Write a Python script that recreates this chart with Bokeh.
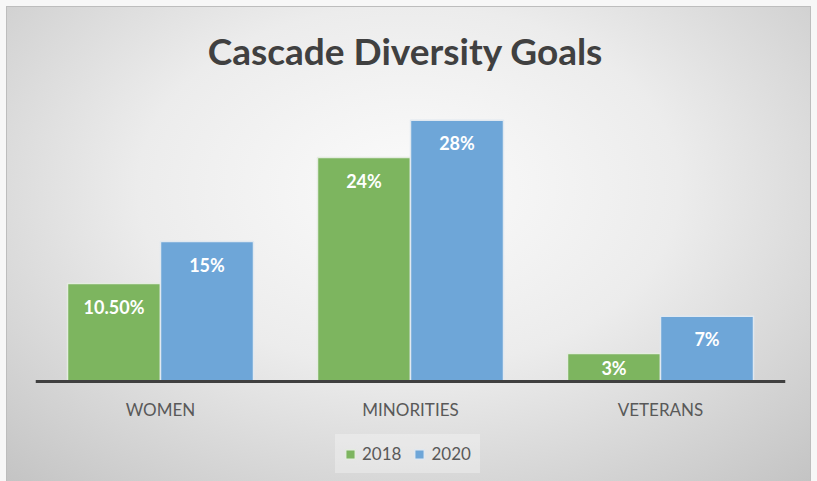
from bokeh.plotting import figure
from bokeh.models import ColumnDataSource, FactorRange, LabelSet, Label, Legend, LegendItem
from bokeh.core.properties import value
from bokeh.transform import dodge
from bokeh.embed import file_html
from bokeh.resources import INLINE

categories = ["WOMEN", "MINORITIES", "VETERANS"]
series_names = ["2018", "2020"]
values_2018 = [10.5, 24, 3]
values_2020 = [15, 28, 7]
labels_2018 = ["10.50%", "24%", "3%"]
labels_2020 = ["15%", "28%", "7%"]
title_text = "Cascade Diversity Goals"

GREEN = "#7db55f"
BLUE = "#6ea6d8"
FONT = "Lato"

PX = 280.0 / 30.0                  # pixels per percentage point
Y_BOTTOM = -100.0 / PX             # room below the baseline (axis labels, legend)
Y_TOP = 30.0 + 94.0 / PX           # room above the bars (title)
INSET = 23.0 / PX                  # label inset below bar top (data units)


def label_pos(vals):
    # "inside end" label: near the top, but centred in bars too short for that
    return [max(v - INSET, v / 2.0) for v in vals]


src = ColumnDataSource(dict(cat=categories, v18=values_2018, v20=values_2020,
                            l18=labels_2018, l20=labels_2020,
                            y18=label_pos(values_2018), y20=label_pos(values_2020)))

p = figure(width=803, height=474, x_range=FactorRange(*categories), y_range=(Y_BOTTOM, Y_TOP),
           output_backend="svg", toolbar_location=None,
           min_border_left=28, min_border_right=25, min_border_top=0, min_border_bottom=0)

p.styles = {"background": "radial-gradient(ellipse 75% 85% at 50% 38%, #fbfbfb 0%, #ececec 45%, #c3c3c3 100%)",
            "outline": "1px solid #bdbdbd", "margin": "7px 0 0 7px"}
p.background_fill_alpha = 0
p.border_fill_alpha = 0
p.outline_line_color = None

off = 0.186
w = 0.372
r1 = p.vbar(x=dodge("cat", -off, range=p.x_range), top="v18", width=w, source=src,
            fill_color=GREEN, line_color="#e4ece0", line_width=1.5)
r2 = p.vbar(x=dodge("cat", off, range=p.x_range), top="v20", width=w, source=src,
            fill_color=BLUE, line_color="#e0e8f0", line_width=1.5)

for yfield, lab, d in (("y18", "l18", -off), ("y20", "l20", off)):
    ls = LabelSet(x=dodge("cat", d, range=p.x_range), y=yfield, text=lab, source=src,
                  text_align="center", text_baseline="middle",
                  text_color="white", text_font=value(FONT), text_font_style="bold",
                  text_font_size="18px")
    p.add_layout(ls)

title = Label(x=1.48, y=30.0 + 51.0 / PX, text=title_text,
              text_align="center", text_baseline="middle",
              text_font=FONT, text_font_style="bold", text_font_size="37px",
              text_color="#404040")
p.add_layout(title)

p.yaxis.visible = False
p.xgrid.visible = False
p.ygrid.visible = False
p.xaxis.fixed_location = 0
p.xaxis.axis_line_color = "#404040"
p.xaxis.axis_line_width = 3
p.xaxis.major_tick_line_color = None
p.xaxis.minor_tick_line_color = None
p.xaxis.major_label_text_font = FONT
p.xaxis.major_label_text_font_size = "17px"
p.xaxis.major_label_text_color = "#595959"
p.xaxis.major_label_standoff = 11
p.x_range.range_padding = 0
p.x_range.group_padding = 0

legend = Legend(items=[LegendItem(label=series_names[0], renderers=[r1]),
                       LegendItem(label=series_names[1], renderers=[r2])],
                orientation="horizontal", location=(300, 8),
                label_text_font=FONT, label_text_font_size="17px", label_text_color="#595959",
                glyph_width=12, glyph_height=12, spacing=12, label_standoff=6,
                background_fill_color="#ffffff", background_fill_alpha=0.3,
                border_line_alpha=0, padding=9, margin=0)
p.add_layout(legend, "center")

html = file_html(p, INLINE)
html = html.replace("<head>", "<head><style>body{background:#f7f7f7;}</style>", 1)
open("out.html", "w").write(html)
